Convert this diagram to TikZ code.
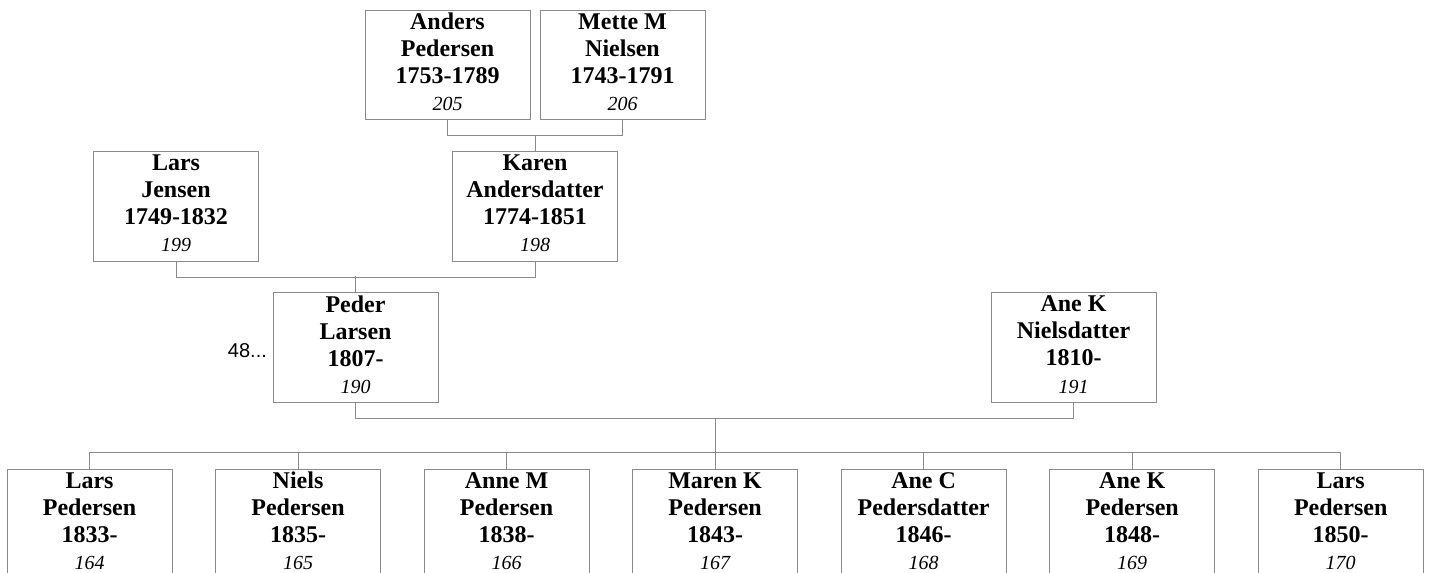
\documentclass[tikz,border=0pt]{standalone}
\usepackage{fontspec}
\setmainfont{Liberation Serif}
\newfontfamily\arialfont{Liberation Sans}
\usepackage{xcolor}
\usetikzlibrary{positioning, calc}

\definecolor{linegray}{HTML}{8A8A8A}
\newcommand{\refno}[1]{{\fontsize{15}{17}\selectfont\mdseries\itshape #1}}

\begin{document}
\begin{tikzpicture}[
  x=0.75pt, y=-0.75pt,
  person/.style={rectangle, draw=linegray, line width=0.75pt, minimum width=123.75pt, minimum height=82pt, inner sep=0pt, text depth=4.5pt, align=center, font=\fontsize{18}{20.3}\selectfont\bfseries},
  more/.style={font=\arialfont\fontsize{15}{17}\selectfont, inner sep=1pt},
  link/.style={draw=linegray, line width=0.75pt}
]
\useasboundingbox (0,0) rectangle (1429,573);
\clip (0,0) rectangle (1429,573);

% Grandparents of Karen
\node[person] (anders) at (447.5,65) {Anders\\Pedersen\\1753-1789\\\refno{205}};
\node[person] (mette) at (622.5,65) {Mette M\\Nielsen\\1743-1791\\\refno{206}};

% Parents of Peder
\node[person] (larsj) at (176,206.5) {Lars\\Jensen\\1749-1832\\\refno{199}};
\node[person] (karen) at (535,206.5) {Karen\\Andersdatter\\1774-1851\\\refno{198}};

\draw[link] (anders.south) -- ++(0,15) -| (mette.south);
\draw[link] (karen.north) -- ++(0,-16.5);

% Couple
\node[person] (peder) at (355.5,347.5) {Peder\\Larsen\\1807-\\\refno{190}};
\node[person] (anekn) at (1073.5,347.5) {Ane K\\Nielsdatter\\1810-\\\refno{191}};
\node[more, left=3pt of peder, yshift=-2pt] (peder-more) {48...};

\draw[link] (larsj.south) -- ++(0,16) -| (karen.south);
\draw[link] (peder.north) -- ++(0,-16);

% Children
\node[person] (c1) at (89.5,524) {Lars\\Pedersen\\1833-\\\refno{164}};
\node[person, right=31.9pt of c1] (c2) {Niels\\Pedersen\\1835-\\\refno{165}};
\node[person, right=31.9pt of c2] (c3) {Anne M\\Pedersen\\1838-\\\refno{166}};
\node[person, right=31.9pt of c3] (c4) {Maren K\\Pedersen\\1843-\\\refno{167}};
\node[person, right=31.9pt of c4] (c5) {Ane C\\Pedersdatter\\1846-\\\refno{168}};
\node[person, right=31.9pt of c5] (c6) {Ane K\\Pedersen\\1848-\\\refno{169}};
\node[person, right=31.9pt of c6] (c7) {Lars\\Pedersen\\1850-\\\refno{170}};

\draw[link] (peder.south) -- ++(0,16) -| (anekn.south);
\draw[link] (c1.north) -- ++(0,-16) -| (c7.north);
\draw[link] (c2.north) -- ++(0,-16);
\draw[link] (c3.north) -- ++(0,-16);
\draw[link] (c5.north) -- ++(0,-16);
\draw[link] (c6.north) -- ++(0,-16);
\draw[link] (c4.north) -- ++(0,-51);

\end{tikzpicture}
\end{document}
